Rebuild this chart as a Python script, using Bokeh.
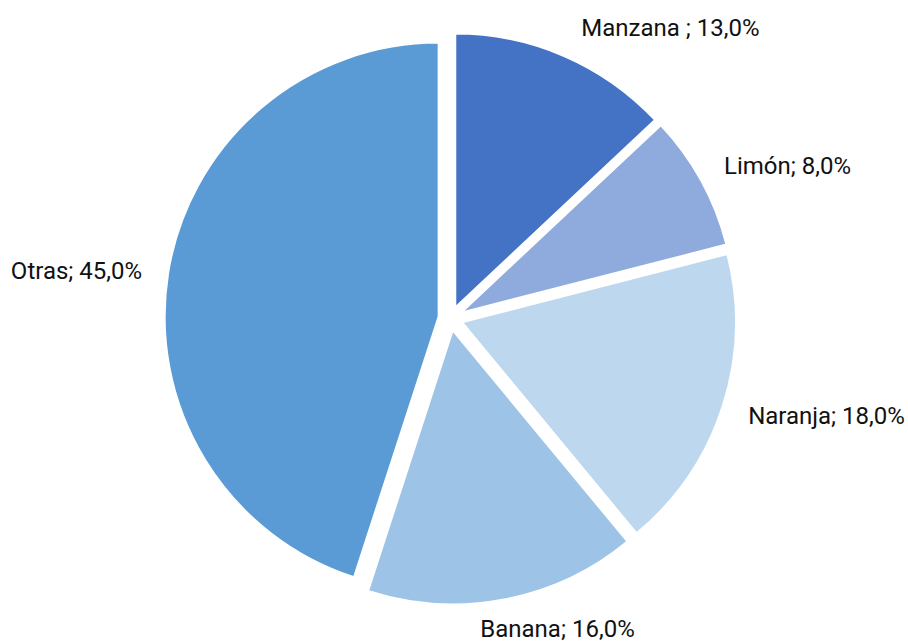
import math
from bokeh.plotting import figure
from bokeh.models import Range1d, ColumnDataSource
from bokeh.core.properties import value
from bokeh.embed import file_html
from bokeh.resources import INLINE

# ---- data ----
categories = ["Manzana", "Limón", "Naranja", "Banana", "Otras"]
shares = [13.0, 8.0, 18.0, 16.0, 45.0]
label_texts = ["Manzana ; 13,0%", "Limón; 8,0%", "Naranja; 18,0%", "Banana; 16,0%", "Otras; 45,0%"]
colors = ["#4472C4", "#8FAADC", "#BDD7EE", "#9DC3E6", "#5B9BD5"]

# ---- layout (screen pixels) ----
W, H = 908, 641
CX, CY = 450, 318          # pie centre, screen coords
R = 274                    # radius
EXPLODE = 12               # explosion distance
# label centres (screen coords)
label_x = [670, 787, 826, 557, 76]
label_y = [27, 165, 415, 628, 270]

def sy(y):  # screen y -> data y
    return H - y

total = sum(shares)
xs, ys, starts, ends = [], [], [], []
acc = 0.0
for s in shares:
    a0 = acc / total * 360.0
    a1 = (acc + s) / total * 360.0
    mid = math.radians((a0 + a1) / 2)
    dx = EXPLODE * math.sin(mid)
    dy = EXPLODE * math.cos(mid)
    xs.append(CX + dx)
    ys.append(sy(CY) + dy)
    starts.append(math.radians(90 - a0))
    ends.append(math.radians(90 - a1))
    acc += s

src = ColumnDataSource(dict(x=xs, y=ys, start=starts, end=ends, color=colors, cat=categories))

p = figure(width=W, height=H, output_backend="svg", toolbar_location=None,
           x_range=Range1d(0, W), y_range=Range1d(0, H),
           min_border=0, outline_line_color=None)
p.axis.visible = False
p.grid.visible = False
p.background_fill_color = "white"
p.border_fill_color = "white"

p.wedge(x="x", y="y", radius=R, start_angle="start", end_angle="end", direction="clock",
        fill_color="color", line_color="white", line_width=2, source=src)

lsrc = ColumnDataSource(dict(x=label_x, y=[sy(v) for v in label_y], t=label_texts))
p.text(x="x", y="y", text="t", source=lsrc, text_font=value("Roboto"),
       text_font_size="24px", text_align="center", text_baseline="middle", text_color="#111111")

open("out.html", "w").write(file_html(p, INLINE))
